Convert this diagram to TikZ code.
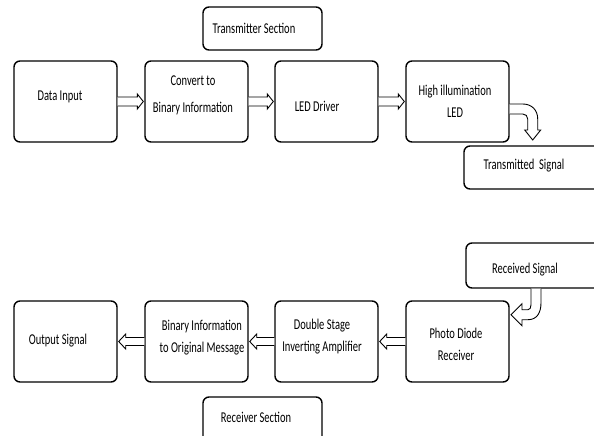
\documentclass[tikz,border=0pt]{standalone}
\usepackage{fontspec}
\setmainfont[FakeStretch=0.7]{Carlito}
\usetikzlibrary{calc}
\tikzset{
  box/.style={draw=black, line width=1.4pt, rounded corners=6pt, fill=white, inner sep=0pt, minimum width=103pt, minimum height=81pt},
  smallbox/.style={box, minimum height=43pt},
  txt/.style={font=\fontsize{15}{22}\selectfont, align=center, inner sep=0pt},
  blk/.style={draw=black, line width=0.9pt, fill=white, line join=miter},
}
% hollow block arrow pointing right, from #1 to #2
\newcommand\rblk[2]{\draw[blk] let \p1=(#1), \p2=(#2) in
  (\x1,\y1+4.5pt) -- (\x2-7pt,\y1+4.5pt) -- (\x2-7pt,\y1+7.5pt) -- (\x2-1pt,\y1)
  -- (\x2-7pt,\y1-7.5pt) -- (\x2-7pt,\y1-4.5pt) -- (\x1,\y1-4.5pt);}
% hollow block arrow pointing left, from #1 to #2
\newcommand\lblk[2]{\draw[blk] let \p1=(#1), \p2=(#2) in
  (\x1,\y1+4pt) -- (\x2+8pt,\y1+4pt) -- (\x2+8pt,\y1+7.5pt) -- (\x2+1pt,\y1)
  -- (\x2+8pt,\y1-7.5pt) -- (\x2+8pt,\y1-4pt) -- (\x1,\y1-4pt);}
\begin{document}
\begin{tikzpicture}[x=1pt,y=-1pt]
\clip (0,0) rectangle (594,436);
\fill[white] (0,0) rectangle (594,436);

% transmitter row
\node[box] (din) at (65.5,101.5) {};
\node[box] (cvt) at (196.5,101.5) {};
\node[box] (drv) at (326.5,101.5) {};
\node[box] (hi)  at (457.5,101.5) {};
\node[smallbox, minimum width=119pt] (tsec) at (262.5,28.5) {};
\node[smallbox, minimum width=156pt] (tsig) at (542,167.5) {};

% receiver row
\node[box] (out) at (65.5,341.5) {};
\node[box] (bin) at (196.5,341.5) {};
\node[box] (dbl) at (326.5,341.5) {};
\node[box] (pd)  at (457.5,341.5) {};
\node[smallbox, minimum width=154pt, minimum height=45pt] (rsig) at (543,265.5) {};
\node[smallbox, minimum width=119pt, minimum height=53pt] (rsec) at (262.5,423.5) {};

% texts
\node[txt] (dint) at (60,97) {Data Input};
\node[txt] (cvtt) at (193,95.5) {Convert to\\[5pt]Binary Information};
\node[txt] (drvt) at (317,106) {LED Driver};
\node[txt] (hit)  at (455,101) {High illumination\\LED};
\node[txt] (tsect) at (254,28) {Transmitter Section};
\node[txt] (tsigt) at (524,166) {Transmitted\ \ Signal};
\node[txt] (outt) at (58,341) {Output Signal};
\node[txt] (bint) at (202,338) {Binary Information\\to Original Message};
\node[txt] (dblt) at (322,336.5) {Double Stage\\Inverting Amplifier};
\node[txt] (pdt)  at (456,344) {Photo Diode\\Receiver};
\node[txt] (rsigt) at (525,270) {Received Signal};
\node[txt] (rsect) at (256,417) {Receiver Section};

% straight block arrows
\rblk{din.east}{cvt.west}
\rblk{cvt.east}{drv.west}
\rblk{drv.east}{hi.west}
\lblk{pd.west}{dbl.east}
\lblk{dbl.west}{bin.east}
\lblk{bin.west}{out.east}

% curved arrow: LED -> transmitted signal
\draw[blk]
  ([shift={(0,2.5)}]hi.east) -- ([shift={(13,2.5)}]hi.east)
  .. controls ([shift={(22,2.5)}]hi.east) and ([shift={(28,8.5)}]hi.east) .. ([shift={(28,17.5)}]hi.east)
  -- ([shift={(28,28.5)}]hi.east) -- ([shift={(31,28.5)}]hi.east)
  -- ([shift={(23,38.5)}]hi.east) -- ([shift={(15,28.5)}]hi.east)
  -- ([shift={(18,28.5)}]hi.east) -- ([shift={(18,17.5)}]hi.east)
  .. controls ([shift={(18,14.5)}]hi.east) and ([shift={(16,12.5)}]hi.east) .. ([shift={(13,12.5)}]hi.east)
  -- ([shift={(0,12.5)}]hi.east);

% curved arrow: received signal -> photo diode
\draw[blk]
  ([shift={(-2,0)}]rsig.south) -- ([shift={(-2,14)}]rsig.south)
  .. controls ([shift={(-2,24)}]rsig.south) and ([shift={(-6,31)}]rsig.south) .. ([shift={(-15,31)}]rsig.south)
  -- ([shift={(-21,31)}]rsig.south) -- ([shift={(-21,37)}]rsig.south)
  -- ([shift={(-32,26)}]rsig.south) -- ([shift={(-21,15)}]rsig.south)
  -- ([shift={(-21,21)}]rsig.south) -- ([shift={(-15,21)}]rsig.south)
  .. controls ([shift={(-13,21)}]rsig.south) and ([shift={(-12,19)}]rsig.south) .. ([shift={(-12,16)}]rsig.south)
  -- ([shift={(-12,0)}]rsig.south);
\end{tikzpicture}
\end{document}
